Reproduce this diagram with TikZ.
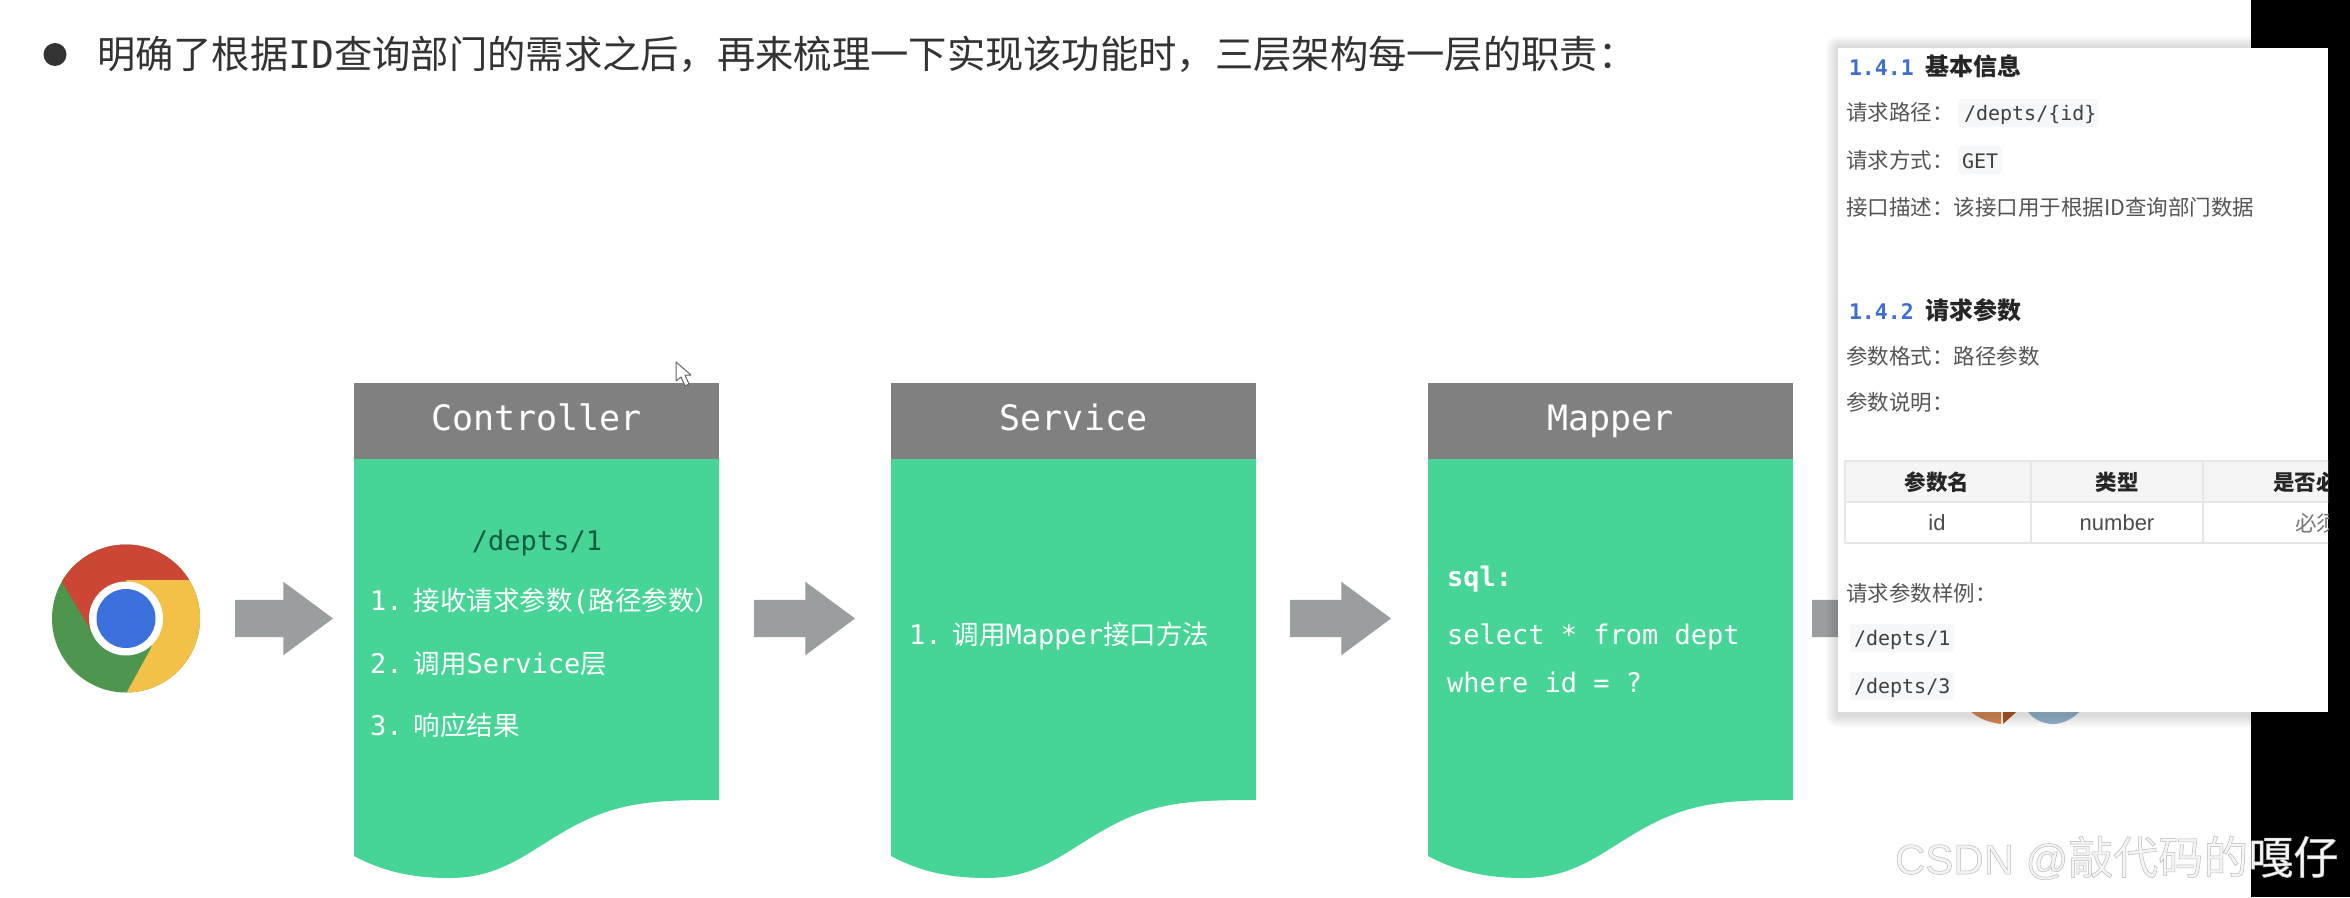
\documentclass[tikz,border=0pt]{standalone}
\usepackage{fontspec}
\setmainfont{Liberation Sans}
\newfontfamily\cjkf{Noto Sans CJK SC}
\newfontfamily\monof{DejaVu Sans Mono}
\usetikzlibrary{shapes.arrows}
\newcommand\fs[1]{\fontsize{#1}{#1}\selectfont}
\definecolor{cardgreen}{RGB}{71,213,151}
\definecolor{cardgray}{RGB}{128,128,128}
\definecolor{arrgray}{RGB}{154,158,158}
\definecolor{darkgreen}{RGB}{18,92,64}
\definecolor{headblue}{RGB}{62,110,210}
\definecolor{codebg}{RGB}{246,247,248}
\definecolor{tline}{RGB}{230,230,230}
\definecolor{ptext}{RGB}{85,85,85}
\definecolor{chred}{RGB}{204,70,54}
\definecolor{chyellow}{RGB}{243,193,72}
\definecolor{chgreen}{RGB}{78,150,78}
\definecolor{chblue}{RGB}{60,112,220}
\definecolor{dborange}{RGB}{215,140,85}
\definecolor{dbbrown}{RGB}{170,90,40}
\definecolor{dbsteel}{RGB}{150,180,205}
\tikzset{
  x=1pt,y=-1pt,
  every node/.style={inner sep=0pt,outer sep=0pt},
  blockarrow/.style={single arrow,fill=arrgray,anchor=tail,text height=37pt,text depth=0pt,minimum height=#1,
    single arrow head extend=18pt,single arrow head indent=0pt,single arrow tip angle=73},
  cardhead/.style={fill=cardgray,text=white,anchor=north west,minimum width=365pt,minimum height=76pt,
    text height=26pt,text depth=8pt,font=\monof\fs{35}},
  cardtxt/.style={anchor=base west,text=white,font=\monof\fs{27}},
  ptxt/.style={anchor=base west,text=ptext,font=\cjkf\fs{21.5}},
  pnum/.style={anchor=base west,text=headblue,font=\monof\bfseries\fs{21.5}},
  phead/.style={anchor=base west,text=black!85,font=\cjkf\bfseries\fs{24}},
  codebox/.style={fill=codebg,rounded corners=3pt},
  pcode/.style={anchor=base west,text=black!75,font=\monof\fs{20}},
  thead/.style={text=black!85,font=\cjkf\bfseries\fs{21.5}},
  tcell/.style={text=black!70,font=\fs{22}},
}
\newcommand\cardbody[2]{% x, header bottom
  \fill[cardgreen,shift={(#1,0)}] (0,#2) -- (365,#2) -- (365,800)
    .. controls (300,800) and (265,802) .. (220,826)
    .. controls (175,850) and (150,878) .. (95,878)
    .. controls (60,878) and (30,872) .. (0,856) -- cycle;}
\newcommand\cn[1]{{\cjkf\fs{26.5}#1}}
\begin{document}
\begin{tikzpicture}
\useasboundingbox (0,0) rectangle (2350,897);
\fill[white] (0,0) rectangle (2350,897);
\fill[black] (2251,0) rectangle (2350,897);
% title line
\node[circle,fill=black!80,minimum size=23pt] (bullet) at (55,54.5) {};
\node[anchor=base west,text=black!80,font=\cjkf\fs{38.3}] (title) at (97,68)
  {明确了根据{\monof\fs{38}ID}查询部门的需求之后，再来梳理一下实现该功能时，三层架构每一层的职责：};
% chrome icon
\node[circle,fill=chgreen,minimum size=148pt] (chrome) at (126,618.5) {};
\begin{scope}
  \clip (chrome.center) circle (74);
  \fill[chred] (126,580) -- (215,580) -- (215,530) -- (40,530) -- (62,582) -- (92,632) -- cycle;
  \fill[chyellow] (126,580) -- (215,580) -- (215,705) -- (127,692) -- (150,650) -- (163,619) -- cycle;
\end{scope}
\node[circle,fill=white,minimum size=74pt] (ring) at (chrome.center) {};
\node[circle,fill=chblue,minimum size=59pt] (dot) at (chrome.center) {};
% cards
\cardbody{354}{459}
\cardbody{891}{459}
\cardbody{1428}{459}
\node[cardhead] (ctrl) at (354,383) {Controller};
\node[cardhead] (serv) at (891,383) {Service};
\node[cardhead] (mapr) at (1428,383) {Mapper};
\node[anchor=base,text=darkgreen,font=\monof\fs{27}] (cpath) at (537,550) {/depts/1};
\node[cardtxt] (c1) at (370,610) {1.\hspace{11pt}\cn{接收请求参数}(\cn{路径参数）}};
\node[cardtxt] (c2) at (370,673) {2.\hspace{11pt}\cn{调用}Service\cn{层}};
\node[cardtxt] (c3) at (370,735) {3.\hspace{11pt}\cn{响应结果}};
\node[cardtxt] (s1) at (909,644) {1.\hspace{11pt}\cn{调用}Mapper\cn{接口方法}};
\node[cardtxt,font=\monof\bfseries\fs{27}] (m0) at (1447,586) {sql:};
\node[cardtxt] (m1) at (1447,644) {select * from dept};
\node[cardtxt] (m2) at (1447,692) {where id = ?};
% arrows
\node[blockarrow=98pt] (a1) at (235,618.5) {};
\node[blockarrow=101pt] (a2) at (754,618.5) {};
\node[blockarrow=101pt] (a3) at (1290,618.5) {};
\node[blockarrow=98pt] (a4) at (1812,618.5) {};
% database icon remnants below the panel
\fill[dborange] (1965,705) -- (2001,705) -- (2001,724) .. controls (1985,722) and (1973,716) .. (1965,705) -- cycle;
\fill[dbbrown] (2003,705) -- (2024,705) -- (2003,724) -- cycle;
\fill[dbsteel] (2023,705) -- (2085,705) .. controls (2075,720) and (2060,724) .. (2054,724)
  .. controls (2040,724) and (2030,717) .. (2023,705) -- cycle;
% cursor
\draw[fill=white,draw=black!60,line width=1pt,line join=round] (676,362) -- (676,381) -- (681,377) -- (685,386) -- (689,384) -- (685,375) -- (691,375) -- cycle;
% panel shadow
\foreach \d in {12,10,8,6,4,2}
  \fill[black,opacity=.025,rounded corners=\d pt] (1838-\d,48-\d) rectangle (2251+\d,712+\d+3);
\node[fill=white,anchor=north west,minimum width=490pt,minimum height=664pt] (panel) at (1838,48) {};
\node[pnum] (h1n) at (1849,75) {1.4.1};
\node[phead] (h1) at (1925,75) {基本信息};
\node[ptxt] (l1) at (1846,120) {请求路径：};
\node[codebox,minimum width=140pt,minimum height=28pt] (b1) at (2028,113) {};
\node[pcode] (l1c) at (1964,120) {/depts/\{id\}};
\node[ptxt] (l2) at (1846,168) {请求方式：};
\node[codebox,minimum width=44pt,minimum height=28pt] (b2) at (1980,160) {};
\node[pcode] (l2c) at (1962,168) {GET};
\node[ptxt] (l3) at (1846,215) {接口描述：该接口用于根据ID查询部门数据};
\node[pnum] (h2n) at (1849,319) {1.4.2};
\node[phead] (h2) at (1925,319) {请求参数};
\node[ptxt] (l4) at (1846,364) {参数格式：路径参数};
\node[ptxt] (l5) at (1846,410) {参数说明：};
% table
\begin{scope}
  \clip (1838,48) rectangle (2328,712);
  \fill[black!4] (1845,461) rectangle (2340,502);
  \draw[tline,line width=1.2pt] (1845,461) rectangle (2340,543) (1845,502) -- (2340,502)
    (2031,461) -- (2031,543) (2203,461) -- (2203,543);
  \node[thead] (t1) at (1937,482) {参数名};
  \node[thead] (t2) at (2117,482) {类型};
  \node[thead,anchor=west] (t3) at (2273,482) {是否必};
  \node[tcell] (t4) at (1937,523) {id};
  \node[tcell] (t5) at (2117,523) {number};
  \node[text=black!55,font=\cjkf\fs{21.5},anchor=west] (t6) at (2295,523) {必须};
\end{scope}
\node[ptxt] (l6) at (1846,601) {请求参数样例：};
\node[codebox,minimum width=104pt,minimum height=28pt] (b3) at (1902,638) {};
\node[pcode] (l6c) at (1854,645) {/depts/1};
\node[codebox,minimum width=104pt,minimum height=28pt] (b4) at (1902,686) {};
\node[pcode] (l7c) at (1854,693) {/depts/3};
% watermark
\node[anchor=base west,text=white!96!black,font=\fs{42}] (wm) at (1895,874)
  {\special{pdf:code 2 Tr 0.5 w 0.72 0.72 0.72 RG}CSDN @{\cjkf\fs{45}敲代码的嘎仔}\special{pdf:code 0 Tr}};
\end{tikzpicture}
\end{document}
